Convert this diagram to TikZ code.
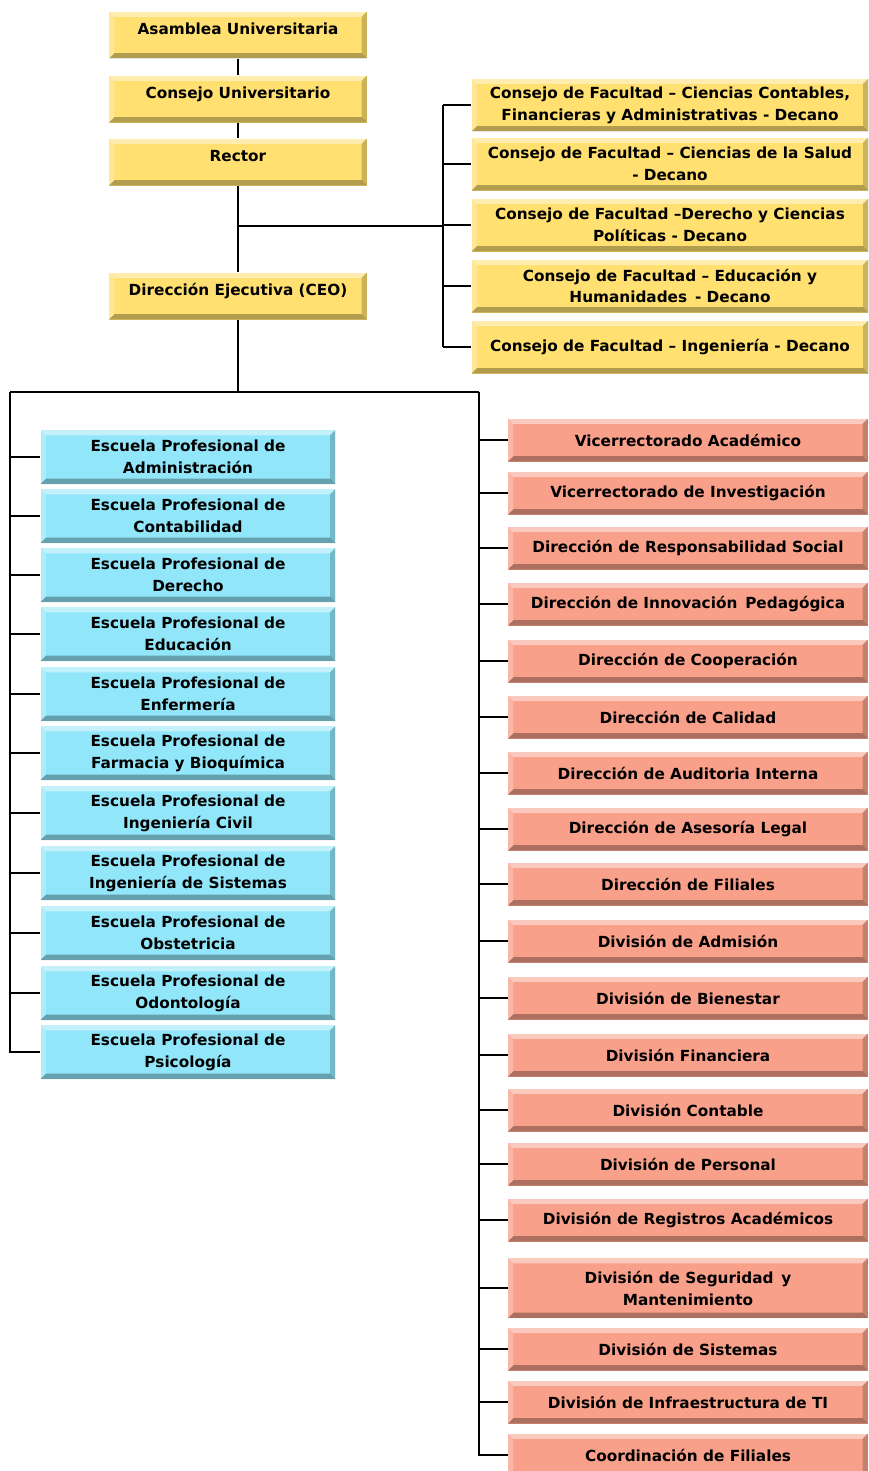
\documentclass[tikz,border=0pt]{standalone}
\usepackage{fontspec}
\setmainfont{DejaVu Sans}
\definecolor{gold}{RGB}{255,224,112}
\definecolor{sky}{RGB}{145,230,250}
\definecolor{salmon}{RGB}{249,160,138}
\tikzset{
  bevel/.style={path picture={
    \fill[white,opacity=0.45] (path picture bounding box.north west) -- (path picture bounding box.north east)
      -- ([shift={(-3pt,-3pt)}]path picture bounding box.north east) -- ([shift={(3pt,-3pt)}]path picture bounding box.north west) -- cycle;
    \fill[white,opacity=0.25] (path picture bounding box.north west) -- (path picture bounding box.south west)
      -- ([shift={(3pt,3pt)}]path picture bounding box.south west) -- ([shift={(3pt,-3pt)}]path picture bounding box.north west) -- cycle;
    \fill[black,opacity=0.3] (path picture bounding box.south west) -- (path picture bounding box.south east)
      -- ([shift={(-3pt,3pt)}]path picture bounding box.south east) -- ([shift={(3pt,3pt)}]path picture bounding box.south west) -- cycle;
    \fill[black,opacity=0.2] (path picture bounding box.north east) -- (path picture bounding box.south east)
      -- ([shift={(-3pt,3pt)}]path picture bounding box.south east) -- ([shift={(-3pt,-3pt)}]path picture bounding box.north east) -- cycle;
  }},
  unit/.style={bevel, inner sep=0pt, align=center,
    font=\fontsize{8.7}{12.5}\selectfont\bfseries},
  yellowbox/.style={unit, fill=gold, minimum width=5.16cm, minimum height=0.94cm, text depth=7pt},
  facbox/.style={unit, fill=gold, minimum width=7.94cm, minimum height=1.06cm},
  bluebox/.style={unit, fill=sky, minimum width=5.9cm, minimum height=1.08cm},
  redbox/.style={unit, fill=salmon, minimum width=7.2cm, minimum height=0.86cm},
  link/.style={line width=1pt}
}

\begin{document}
\begin{tikzpicture}[x=0.02cm, y=-0.02cm]
  \useasboundingbox (0,0) rectangle (869,1471);
  % governing bodies
  \node[yellowbox] (asamblea) at (238,35) {Asamblea Universitaria};
  \node[yellowbox] (consejo) at (238,99) {Consejo Universitario};
  \node[yellowbox] (rector) at (238,162) {Rector};
  \node[yellowbox] (ceo) at (238,296) {Dirección Ejecutiva (CEO)};
  % faculty councils
  \foreach \i/\y/\t in {
    1/105/{Consejo de Facultad -- Ciencias Contables,\\Financieras y Administrativas - Decano},
    2/164/{Consejo de Facultad -- Ciencias de la Salud\\- Decano},
    3/225/{Consejo de Facultad --Derecho y Ciencias\\Políticas - Decano},
    4/286/{Consejo de Facultad -- Educación y\\Humanidades\, - Decano},
    5/347/{Consejo de Facultad -- Ingeniería - Decano}} {%
    \node[facbox] (fac\i) at (670,\y) {\t};
  }
  % schools
  \foreach \i/\y/\t in {
    1/457/Administración, 2/516/Contabilidad, 3/575/Derecho, 4/634/Educación,
    5/694/Enfermería, 6/753/Farmacia y Bioquímica, 7/813/Ingeniería Civil,
    8/873/Ingeniería de Sistemas, 9/933/Obstetricia, 10/993/Odontología,
    11/1052/Psicología} {%
    \node[bluebox] (esc\i) at (188,\y) {Escuela Profesional de\\\t};
  }
  % directions and divisions
  \foreach \i/\y/\t in {
    1/440/Vicerrectorado Académico, 2/493/Vicerrectorado de Investigación,
    3/548/Dirección de Responsabilidad Social, 4/604/Dirección de Innovación\, Pedagógica,
    5/661/Dirección de Cooperación, 6/717/Dirección de Calidad,
    7/773/Dirección de Auditoria Interna, 8/829/Dirección de Asesoría Legal,
    9/884/Dirección de Filiales, 10/941/División de Admisión,
    11/998/División de Bienestar, 12/1055/División Financiera,
    13/1110/División Contable, 14/1164/División de Personal,
    15/1220/División de Registros Académicos, 17/1349/División de Sistemas,
    18/1402/División de Infraestructura de TI, 19/1455/Coordinación de Filiales} {%
    \node[redbox] (dir\i) at (688,\y) {\t};
  }
  \node[redbox, minimum height=1.2cm] (dir16) at (688,1288) {División de Seguridad\, y\\Mantenimiento};
  % connections
  \draw[link] (asamblea) -- (consejo);
  \draw[link] (consejo) -- (rector);
  \draw[link] (rector) -- (ceo);
  \coordinate (brk) at (443,226);
  \draw[link] (rector.south |- brk) -- (brk);
  \draw[link] (fac1.west -| brk) -- (fac5.west -| brk);
  \foreach \i in {1,...,5}
    \draw[link] (fac\i.west) -- (fac\i.west -| brk);
  \coordinate (lbus) at (10,392);
  \coordinate (rbus) at (479,392);
  \draw[link] (ceo) -- (ceo.south |- lbus);
  \draw[link] (lbus) -- (rbus);
  \draw[link] (lbus) |- (esc11.west);
  \draw[link] (rbus) |- (dir19.west);
  \foreach \i in {1,...,10}
    \draw[link] (esc\i.west) -- (esc\i.west -| lbus);
  \foreach \i in {1,...,18}
    \draw[link] (dir\i.west) -- (dir\i.west -| rbus);
\end{tikzpicture}
\end{document}
